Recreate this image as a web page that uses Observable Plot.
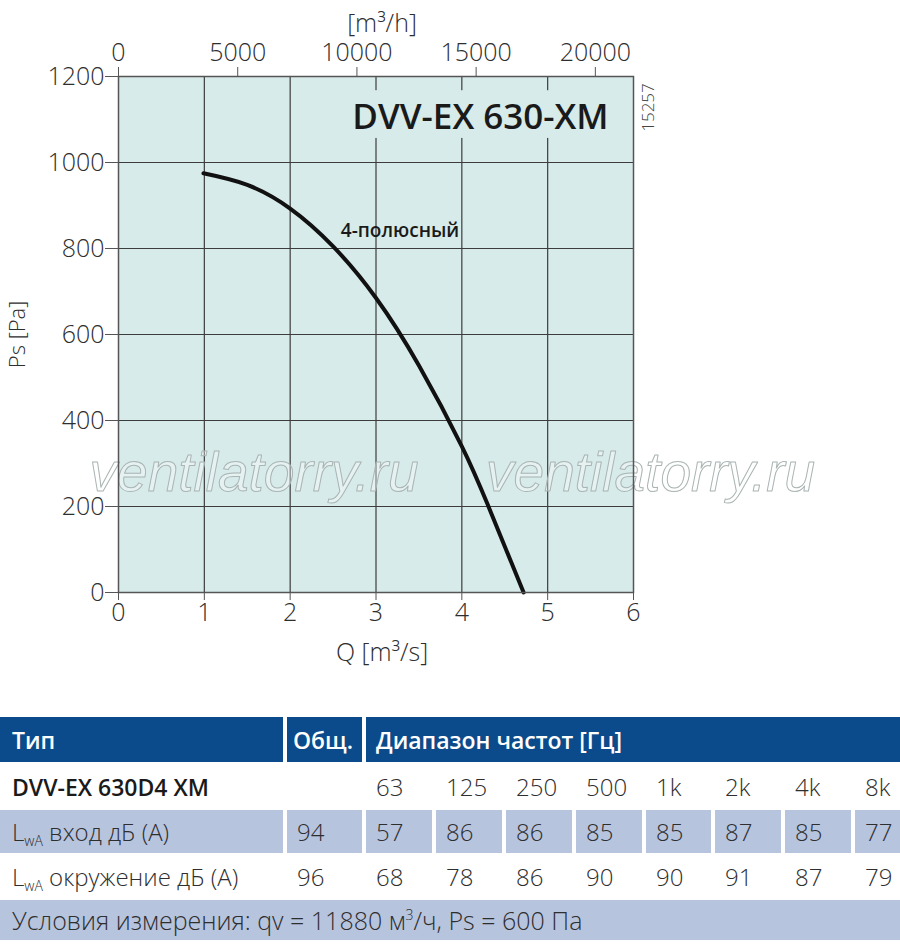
<!DOCTYPE html>
<html>
<head>
<meta charset="utf-8">
<script src="https://cdn.jsdelivr.net/npm/d3@7"></script>
<script src="https://cdn.jsdelivr.net/npm/@observablehq/plot@0.6"></script>
<style>
  html, body { margin: 0; padding: 0; background: #fff; }
  body { position: relative; width: 900px; height: 946px; overflow: hidden; font-family: "Open Sans", sans-serif; }
  #chart { position: absolute; left: 0; top: 0; }
  #table { position: absolute; left: 0; top: 717px; width: 900px; font-size: 24px; font-weight: 300; color: #2e2e2e; }
  .row { display: grid; grid-template-columns: 283px 75px 66px 66px 66px 66px 65px 66px 66px 1fr; column-gap: 4px; }
  .cell { display: flex; align-items: center; padding-left: 10px; white-space: nowrap; overflow: hidden; }
  .cell.first { padding-left: 12px; }
  .hdr .cell { background: #0b4b8b; color: #fff; font-weight: 600; font-size: 23px; height: 45px; }
  .band .cell { background: #b7c4de; }
  .r { height: 43px; }
  .r .cell { height: 43px; }
  .full { grid-column: 1 / -1; }
  .span8 { grid-column: 3 / -1; }
  .bold { font-weight: 600; font-size: 23px; color: #1a1a1a; }
  sub { font-size: 14px; vertical-align: -5px; line-height: 0; }
  sup { font-size: 14px; vertical-align: 10px; line-height: 0; }
</style>
</head>
<body>
<div id="chart"></div>
<div id="table"></div>
<script>
// ---- chart data ----
const flowQ = [0.99, 1.5, 2.0, 2.5, 3.0, 3.5, 4.0, 4.3, 4.72];
const pressurePs = [975, 948, 893, 805, 685, 528, 340, 205, 0];
const qTicks = [0, 1, 2, 3, 4, 5, 6];
const psTicks = [0, 200, 400, 600, 800, 1000, 1200];
const m3hTicks = [0, 5000, 10000, 15000, 20000];
const modelTitle = "DVV-EX 630-XM";
const curveLabel = "4-полюсный";
const drawingNo = "15257";
const watermarkText = "ventilatorry.ru";

// ---- table data ----
const tableHeader = ["Тип", "Общ.", "Диапазон частот [Гц]"];
const modelName = "DVV-EX 630D4 XM";
const freqLabels = ["63", "125", "250", "500", "1k", "2k", "4k", "8k"];
const inletTotal = 94;
const inletValues = [57, 86, 86, 85, 85, 87, 85, 77];
const surroundTotal = 96;
const surroundValues = [68, 78, 86, 90, 90, 91, 87, 79];
const conditionsText = "Условия измерения: qv = 11880 м<sup>3</sup>/ч, Ps = 600 Па";

const curve = flowQ.map((q, i) => ({q, ps: pressurePs[i]}));
const bg = "#d7ebea";
const gridColor = "#3c3c3c";
const axisText = {fontSize: 25, fontWeight: 300, fill: "#2e2e2e", stroke: "#555"};

const chart = Plot.plot({
  width: 900,
  height: 670,
  marginLeft: 118,
  marginRight: 267,
  marginTop: 76,
  marginBottom: 78,
  style: {fontFamily: "Open Sans", background: "transparent", color: "#333", overflow: "visible"},
  x: {domain: [0, 6]},
  y: {domain: [0, 1200]},
  marks: [
    Plot.frame({fill: bg}),
    Plot.gridX(qTicks.slice(1, -1), {stroke: gridColor, strokeOpacity: 1, strokeWidth: 1.2}),
    Plot.gridY(psTicks.slice(1, -1), {stroke: gridColor, strokeOpacity: 1, strokeWidth: 1.2}),
    Plot.rect([{x1: 2.65, x2: 5.75, y1: 1056, y2: 1167}], {x1: "x1", x2: "x2", y1: "y1", y2: "y2", fill: bg}),
    Plot.text([{x: 1.58, y: 276}, {x: 6.2, y: 276}], {
      x: "x", y: "y", text: () => watermarkText, fontSize: 55, fontStyle: "italic",
      fontFamily: "Liberation Sans", fill: "#ffffff", fillOpacity: 0.35,
      stroke: "#a9b4b3", strokeWidth: 1, paintOrder: "normal", clip: false
    }),
    Plot.line(curve, {x: "q", y: "ps", curve: "natural", stroke: "#111", strokeWidth: 4}),
    Plot.text([modelTitle], {x: 5.71, y: 1105, textAnchor: "end", fontSize: 35, fontWeight: 600, fill: "#1a1a1a"}),
    Plot.text([curveLabel], {x: 2.59, y: 842, textAnchor: "start", fontSize: 19, fontWeight: 600, fill: "#1a1a1a"}),
    Plot.frame({stroke: "#555", strokeWidth: 1.5}),
    Plot.axisY(psTicks, {tickSize: 13, tickPadding: 1, label: null, tickFormat: d => String(d), ...axisText}),
    Plot.axisX(qTicks, {anchor: "bottom", tickSize: 8, tickPadding: 3, label: null, ...axisText}),
    Plot.axisX(m3hTicks.map(v => v / 3600), {anchor: "top", tickSize: 10, tickPadding: 6, label: null,
      tickFormat: d => String(Math.round(d * 3600)), ...axisText}),
    Plot.text(["[m³/h]"], {frameAnchor: "top", lineAnchor: "middle", dx: 6, dy: -53, fontSize: 25, fontWeight: 300, fill: "#2e2e2e"}),
    Plot.text(["Q [m³/s]"], {frameAnchor: "bottom", lineAnchor: "middle", dx: 6, dy: 60, fontSize: 25, fontWeight: 300, fill: "#2e2e2e"}),
    Plot.text(["Ps [Pa]"], {frameAnchor: "left", textAnchor: "middle", lineAnchor: "middle", dx: -101, rotate: -90, fontSize: 22, fontWeight: 300, fill: "#2e2e2e"}),
    Plot.text([drawingNo], {frameAnchor: "top-right", textAnchor: "middle", lineAnchor: "middle", dx: 15, dy: 31, rotate: -90, fontSize: 17, fontWeight: 300, fill: "#444"})
  ]
});
document.getElementById("chart").appendChild(chart);

// ---- table ----
const t = document.getElementById("table");
const cell = (cls, html, style = "") => `<div class="cell ${cls}" style="${style}"><span>${html}</span></div>`;
const L = (s) => `L<sub>wA</sub> ${s}`;
t.innerHTML = `
  <div class="row hdr">
    ${cell("first", tableHeader[0])}
    ${cell("", tableHeader[1], "padding-left:6px")}
    ${cell("span8", tableHeader[2])}
  </div>
  <div class="row r" style="margin-top:3px">
    ${cell("first bold", modelName)}
    ${cell("", "")}
    ${freqLabels.map(f => cell("", f)).join("")}
  </div>
  <div class="row r band" style="margin-top:2px">
    ${cell("first", L("вход дБ (A)"))}
    ${cell("", inletTotal)}
    ${inletValues.map(v => cell("", v)).join("")}
  </div>
  <div class="row r" style="margin-top:2px">
    ${cell("first", L("окружение дБ (A)"))}
    ${cell("", surroundTotal)}
    ${surroundValues.map(v => cell("", v)).join("")}
  </div>
  <div class="row band" style="margin-top:2px">
    ${cell("first full", conditionsText, "height:40px;font-size:25px")}
  </div>
`;
</script>
</body>
</html>
